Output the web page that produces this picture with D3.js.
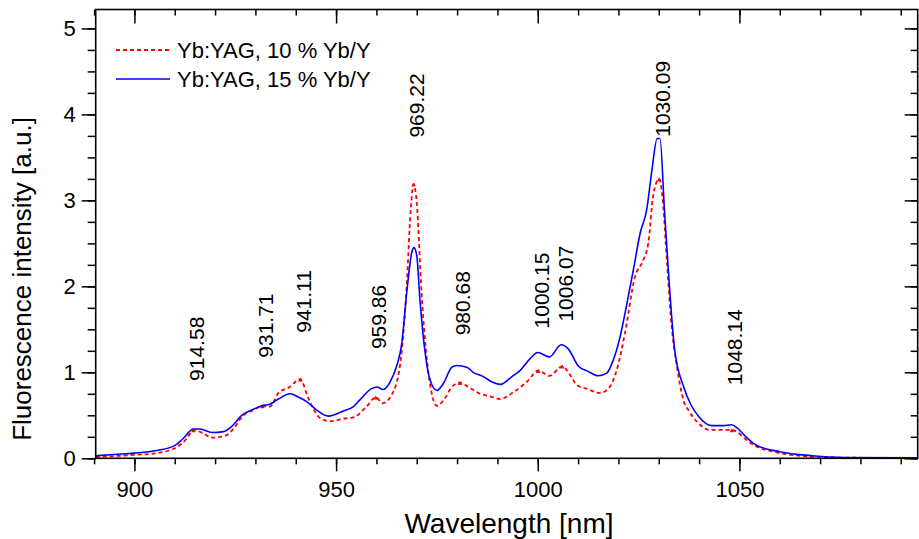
<!DOCTYPE html>
<html lang="en">

<head>
  <meta charset="UTF-8">
  <title>Yb:YAG fluorescence</title>
  <style>
    body {
      margin: 0;
      background: #fff;
    }

    svg {
      display: block;
      font-family: "Liberation Sans", Arial, sans-serif;
    }
  </style>
</head>

<body>
  <svg width="919" height="539"></svg>
  <script src="https://d3js.org/d3.v7.min.js"></script>
  <script>
    var width = 919;
    var height = 539;
    var margin = { top: 9.5, right: 1.3, bottom: 80.7, left: 95.7 };

    // Yb:YAG, 10 % Yb/Y (red dashed)
    var wl10 = [890.4, 900, 905.5, 910.5, 913, 914.58, 917.1, 919.2, 922.5, 924.5, 927, 929.5, 931.71, 933.6,
      935.7, 938.2, 941.11, 943.1, 946, 948.5, 951.8, 954.5, 957.5, 959.86, 961.5, 963.8, 965.9, 967.5, 968.5,
      969.22, 970, 971.2, 972.9, 975, 977, 978.7, 980.68, 982.8, 985.3, 988.2, 990.7, 994, 997.3, 1000.15,
      1002.9, 1006.07, 1008, 1009.7, 1012.1, 1015.4, 1017.5, 1019.6, 1021.6, 1024.1, 1026.2, 1027.4, 1028.7,
      1030.09, 1030.9, 1032, 1033.2, 1034.5, 1036.1, 1037.5, 1039.4, 1042.7, 1046, 1048.14, 1049.3, 1051.8,
      1054.3, 1058.4, 1066, 1076, 1094.3];
    var int10 = [0.015, 0.04, 0.06, 0.13, 0.23, 0.33, 0.29, 0.24, 0.26, 0.34, 0.50, 0.56, 0.61, 0.60,
      0.76, 0.82, 0.92, 0.70, 0.47, 0.43, 0.46, 0.48, 0.60, 0.71, 0.64, 0.74, 1.10, 2.00, 2.89,
      3.19, 2.97, 1.92, 0.99, 0.61, 0.70, 0.83, 0.88, 0.83, 0.76, 0.72, 0.69, 0.77, 0.89, 1.02,
      0.96, 1.07, 0.97, 0.85, 0.81, 0.76, 0.81, 1.03, 1.45, 2.11, 2.31, 2.50, 3.08,
      3.25, 3.05, 2.31, 1.53, 1.07, 0.68, 0.55, 0.43, 0.33, 0.33, 0.33, 0.31, 0.21,
      0.135, 0.077, 0.025, 0.008, 0.003];

    // Yb:YAG, 15 % Yb/Y (blue solid)
    var wl15 = [890.4, 895, 900, 905.5, 910.1, 912.1, 914.6, 916.3, 919.2, 922.1, 924.1, 926.6, 929.5, 931.6,
      933.6, 935.7, 938.6, 940.7, 942.7, 945.2, 948.1, 951.8, 954.3, 955.9, 958.8, 960.1, 961.7, 963.4, 965,
      966.3, 967.5, 968.8, 969.3, 970, 970.8, 972.1, 973.3, 975, 976.6, 978.7, 979.9, 982.4, 984, 986.5, 988.6,
      990.7, 993.6, 995.6, 998.1, 1000, 1002.9, 1005.8, 1007.6, 1010.1, 1012.5, 1015, 1017.1, 1018.7, 1020.4,
      1022.1, 1023.7, 1025.4, 1027, 1028.3, 1029.6, 1030.3, 1031.4, 1032.6, 1033.9, 1036.1, 1038, 1040, 1043,
      1046, 1048, 1049.5, 1051.6, 1054.1, 1060, 1068, 1076, 1094.3];
    var int15 = [0.03, 0.045, 0.06, 0.09, 0.15, 0.23, 0.34, 0.34, 0.30, 0.31, 0.37, 0.50, 0.57, 0.61,
      0.63, 0.69, 0.75, 0.71, 0.66, 0.56, 0.49, 0.55, 0.60, 0.68, 0.81, 0.83, 0.80, 0.89, 1.07,
      1.34, 1.92, 2.40, 2.45, 2.36, 1.84, 1.22, 0.91, 0.79, 0.87, 1.06, 1.08, 1.06, 1.00, 0.95, 0.89,
      0.86, 0.95, 1.02, 1.16, 1.23, 1.18, 1.32, 1.27, 1.07, 1.01, 0.96, 0.99, 1.14, 1.41,
      1.80, 2.19, 2.62, 2.89, 3.35, 3.72, 3.72, 2.90, 2.03, 1.28, 0.84, 0.62, 0.48, 0.38,
      0.38, 0.39, 0.35, 0.25, 0.155, 0.077, 0.03, 0.01, 0.005];

    // peak annotations: wavelength and the intensity level where the label starts
    var peakWl = [914.58, 931.71, 941.11, 959.86, 969.22, 980.68, 1000.15, 1006.07, 1030.09, 1048.14];
    var peakLabelLevel = [0.90, 1.17, 1.46, 1.27, 3.73, 1.43, 1.51, 1.59, 3.74, 0.85];

    var seriesNames = ['Yb:YAG, 10 % Yb/Y', 'Yb:YAG, 15 % Yb/Y'];
    var xMajor = [900, 950, 1000, 1050];
    var yMajor = [0, 1, 2, 3, 4, 5];

    var data10 = wl10.map((w, i) => ({ x: w, y: int10[i] }));
    var data15 = wl15.map((w, i) => ({ x: w, y: int15[i] }));

    var svg = d3.select('svg');

    var xScale = d3.scaleLinear()
      .domain([890.4, 1094.2])
      .range([margin.left, width - margin.right]);
    var yScale = d3.scaleLinear()
      .domain([0, 5.22])
      .range([height - margin.bottom, margin.top]);

    var x0 = margin.left, x1 = width - margin.right;
    var y0 = height - margin.bottom, y1 = margin.top;

    svg.append('clipPath').attr('id', 'clip')
      .append('rect')
      .attr('x', x0).attr('y', y1)
      .attr('width', x1 - x0).attr('height', y0 - y1);

    var line = d3.line()
      .x(d => xScale(d.x))
      .y(d => yScale(d.y))
      .curve(d3.curveMonotoneX);

    var plot = svg.append('g').attr('clip-path', 'url(#clip)');

    plot.append('path')
      .attr('d', line(data10))
      .style('fill', 'none')
      .style('stroke', '#ff0000')
      .style('stroke-width', 1.8)
      .style('stroke-dasharray', '4,3');

    // small triangle markers on the red curve at the labelled peaks
    plot.selectAll('.mark')
      .data(peakWl)
      .enter().append('path')
      .attr('class', 'mark')
      .attr('d', d3.symbol().type(d3.symbolTriangle).size(9))
      .attr('transform', w => {
        var p = data10.find(d => d.x === w);
        return 'translate(' + [xScale(p.x), yScale(p.y) + 1] + ')';
      })
      .style('fill', '#ff0000');

    plot.append('path')
      .attr('d', line(data15))
      .style('fill', 'none')
      .style('stroke', '#0000ff')
      .style('stroke-width', 1.6);

    // axes
    function clean(g) {
      g.select('.domain').remove();
      g.selectAll('line').attr('stroke', '#000').attr('stroke-width', 1.5);
      g.selectAll('text').attr('fill', '#000').style('font-size', '22px')
        .style('font-family', '"Liberation Sans", Arial, sans-serif');
    }

    svg.append('g')
      .attr('transform', 'translate(0,' + y0 + ')')
      .call(d3.axisBottom(xScale).tickValues(d3.range(890, 1095, 10)).tickSize(6).tickFormat(''))
      .call(clean);
    svg.append('g')
      .attr('transform', 'translate(0,' + y0 + ')')
      .call(d3.axisBottom(xScale).tickValues(xMajor).tickSize(13).tickPadding(10).tickFormat(d3.format('d')))
      .call(clean);
    // top: ticks pointing inward
    svg.append('g')
      .attr('transform', 'translate(0,' + y1 + ')')
      .call(d3.axisBottom(xScale).tickValues(d3.range(890, 1095, 10)).tickSize(6).tickFormat(''))
      .call(clean);
    svg.append('g')
      .attr('transform', 'translate(0,' + y1 + ')')
      .call(d3.axisBottom(xScale).tickValues(xMajor).tickSize(14).tickFormat(''))
      .call(clean);

    svg.append('g')
      .attr('transform', 'translate(' + x0 + ',0)')
      .call(d3.axisLeft(yScale).tickValues(d3.range(0, 5.01, 0.25)).tickSize(8).tickFormat(''))
      .call(clean);
    svg.append('g')
      .attr('transform', 'translate(' + x0 + ',0)')
      .call(d3.axisLeft(yScale).tickValues(yMajor).tickSize(14).tickPadding(6).tickFormat(d3.format('d')))
      .call(clean);
    // right: ticks pointing inward
    svg.append('g')
      .attr('transform', 'translate(' + x1 + ',0)')
      .call(d3.axisLeft(yScale).tickValues(d3.range(0, 5.01, 0.25)).tickSize(7).tickFormat(''))
      .call(clean);
    svg.append('g')
      .attr('transform', 'translate(' + x1 + ',0)')
      .call(d3.axisLeft(yScale).tickValues(yMajor).tickSize(13).tickFormat(''))
      .call(clean);

    svg.append('rect')
      .attr('x', x0).attr('y', y1)
      .attr('width', x1 - x0).attr('height', y0 - y1)
      .style('fill', 'none')
      .style('stroke', '#000')
      .style('stroke-width', 1.6);

    // axis titles
    svg.append('text')
      .attr('x', 509)
      .attr('y', 533)
      .attr('text-anchor', 'middle')
      .style('font-size', '28px')
      .text('Wavelength [nm]');
    svg.append('text')
      .attr('transform', 'translate(31,279) rotate(-90)')
      .attr('text-anchor', 'middle')
      .style('font-size', '26px')
      .text('Fluorescence intensity [a.u.]');

    // peak labels
    svg.selectAll('.peak')
      .data(peakWl)
      .enter().append('text')
      .attr('class', 'peak')
      .attr('transform', (w, i) => 'translate(' + [xScale(w) + 3, yScale(peakLabelLevel[i])] + ') rotate(-90)')
      .attr('dy', '0.36em')
      .style('font-size', '21px')
      .text(w => w.toFixed(2));

    // legend
    var legend = svg.append('g');
    var legendY = [50, 79];
    legend.selectAll('line')
      .data(seriesNames)
      .enter().append('line')
      .attr('x1', 116).attr('x2', 170)
      .attr('y1', (d, i) => legendY[i]).attr('y2', (d, i) => legendY[i])
      .style('stroke', (d, i) => i === 0 ? '#ff0000' : '#0000ff')
      .style('stroke-width', (d, i) => i === 0 ? 1.8 : 1.6)
      .style('stroke-dasharray', (d, i) => i === 0 ? '4,3' : null);
    legend.selectAll('text')
      .data(seriesNames)
      .enter().append('text')
      .attr('x', 177)
      .attr('y', (d, i) => legendY[i])
      .attr('dy', '0.36em')
      .style('font-size', '22px')
      .text(d => d);
  </script>
</body>

</html>
